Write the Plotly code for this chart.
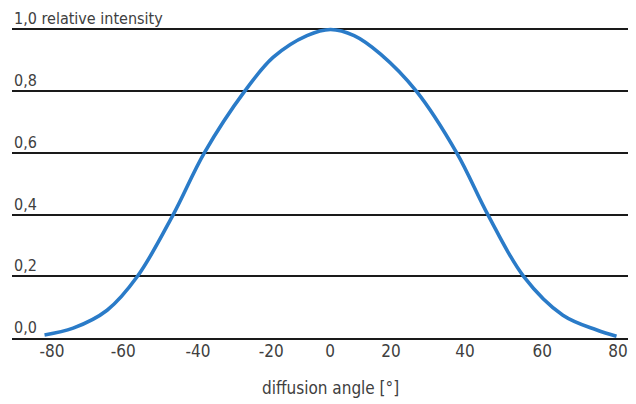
import plotly.graph_objects as go

# Data
angles = [-80, -72, -62.5, -54, -44, -35.3, -24, -16, -6.6, 0,
          6.6, 14, 24, 35.3, 44, 54, 65, 74.5, 80]
intensity = [0.01, 0.032, 0.09, 0.2, 0.4, 0.6, 0.8, 0.91, 0.98, 1.0,
             0.98, 0.92, 0.8, 0.6, 0.4, 0.2, 0.074, 0.026, 0.006]

x_tick_labels = ["-80", "-60", "-40", "-20", "0", "20", "40", "60", "80"]
y_tick_vals = [0.0, 0.2, 0.4, 0.6, 0.8, 1.0]
y_tick_labels = ["0,0", "0,2", "0,4", "0,6", "0,8", "1,0 relative intensity"]
x_title = "diffusion angle [°]"

# layout: where the reference prints its (unevenly spaced) x tick labels
x_tick_pos = [-77.9, -58.0, -37.1, -16.6, -0.1, 16.9, 37.6, 59.2, 80.4]

FONT = "DejaVu Sans Condensed, Liberation Sans Narrow, Roboto, sans-serif"
TXT = "#404040"

fig = go.Figure()
fig.add_trace(go.Scatter(
    x=angles, y=intensity, mode="lines",
    line=dict(color="#2a7bc8", width=3.6, shape="spline", smoothing=1.0),
    hoverinfo="skip", showlegend=False,
))

annotations = [
    dict(text=lab, xref="paper", x=0, yref="y", y=v,
         xanchor="left", yanchor="bottom", yshift=-1, showarrow=False,
         font=dict(family=FONT, size=16, color=TXT))
    for v, lab in zip(y_tick_vals, y_tick_labels)
]
annotations.append(dict(
    text=x_title, xref="x", x=0, yref="paper", y=0,
    yanchor="middle", yshift=-50, showarrow=False,
    font=dict(family=FONT, size=17, color=TXT),
))

fig.update_layout(
    width=628, height=396,
    margin=dict(l=4, r=0, t=5.5, b=66),
    paper_bgcolor="white", plot_bgcolor="white",
    font=dict(family=FONT, size=17, color=TXT),
    xaxis=dict(
        range=[-89.1, 85.45], automargin=False,
        tickmode="array", tickvals=x_tick_pos, ticktext=x_tick_labels,
        showgrid=False, zeroline=False,
        showline=True, linecolor="#1a1a1a", linewidth=2,
        ticks="", ticklabelstandoff=-3,
        tickfont=dict(family=FONT, size=17, color=TXT),
    ),
    yaxis=dict(
        range=[0, 1.05], automargin=False,
        tickmode="array", tickvals=y_tick_vals,
        showticklabels=False,
        showgrid=True, gridcolor="#1a1a1a", gridwidth=2,
        zeroline=False, showline=False, ticks="",
    ),
    annotations=annotations,
)

fig.write_html("out.html")
